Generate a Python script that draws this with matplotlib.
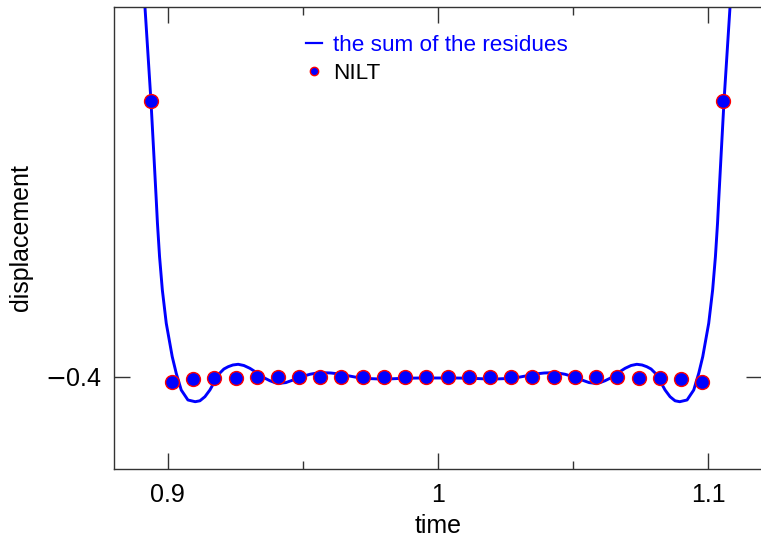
import matplotlib
matplotlib.use("Agg")
import matplotlib.pyplot as plt
from matplotlib.lines import Line2D
from matplotlib.ticker import FixedLocator

plt.rcParams['font.family'] = ['Liberation Sans', 'DejaVu Sans']
plt.rcParams['mathtext.fontset'] = 'dejavusans'

# --- data ---
curve_t = [0.89068, 0.89160, 0.89382, 0.89493, 0.89578, 0.89622, 0.89700, 0.89803,
           0.89948, 0.90169, 0.90317, 0.90502, 0.90749, 0.91019, 0.91193, 0.91378,
           0.91562, 0.91747, 0.91932, 0.92080, 0.92239, 0.92412, 0.92608, 0.92819,
           0.93041, 0.93225, 0.93410, 0.93595, 0.93780, 0.93965, 0.94149, 0.94371,
           0.94641, 0.94925, 0.95258, 0.95480, 0.95750, 0.96034, 0.96367, 0.96662,
           0.96984, 0.97401, 0.97845, 0.98288, 0.98695, 0.99323, 0.99981,
           1.00639, 1.01267, 1.01674, 1.02117, 1.02561, 1.02978, 1.03300, 1.03595,
           1.03928, 1.04212, 1.04482, 1.04704, 1.05037, 1.05321, 1.05591, 1.05813,
           1.05997, 1.06182, 1.06367, 1.06552, 1.06737, 1.06921, 1.07143, 1.07354,
           1.07550, 1.07723, 1.07882, 1.08030, 1.08215, 1.08400, 1.08584, 1.08769,
           1.08943, 1.09213, 1.09460, 1.09645, 1.09793, 1.10014, 1.10159, 1.10262,
           1.10340, 1.10384, 1.10469, 1.10580, 1.10802, 1.10894]
curve_v = [-0.17457, -0.20000, -0.25087, -0.28100, -0.30444, -0.31705, -0.33512, -0.35314,
           -0.37116, -0.38923, -0.39821, -0.40725, -0.41266, -0.41358, -0.41309, -0.41088,
           -0.40725, -0.40238, -0.39805, -0.39589, -0.39464, -0.39372, -0.39334, -0.39399,
           -0.39551, -0.39724, -0.39913, -0.40087, -0.40222, -0.40325, -0.40363, -0.40325,
           -0.40184, -0.40022, -0.39875, -0.39816, -0.39789, -0.39805, -0.39859, -0.39951,
           -0.40038, -0.40103, -0.40130, -0.40119, -0.40092, -0.40076, -0.40076,
           -0.40076, -0.40092, -0.40119, -0.40130, -0.40103, -0.40038, -0.39951, -0.39859,
           -0.39805, -0.39789, -0.39816, -0.39875, -0.40022, -0.40184, -0.40325, -0.40363,
           -0.40325, -0.40222, -0.40087, -0.39913, -0.39724, -0.39551, -0.39399, -0.39334,
           -0.39372, -0.39464, -0.39589, -0.39805, -0.40238, -0.40725, -0.41088, -0.41309,
           -0.41358, -0.41266, -0.40725, -0.39821, -0.38923, -0.37116, -0.35314, -0.33512,
           -0.31705, -0.30444, -0.28100, -0.25087, -0.20000, -0.17457]

nilt_t = [0.8938, 0.9016, 0.9094, 0.9173, 0.9251, 0.9330, 0.9408, 0.9486, 0.9565,
          0.9643, 0.9722, 0.9800, 0.9879, 0.9957, 1.0036, 1.0114, 1.0193, 1.0271,
          1.0349, 1.0428, 1.0506, 1.0585, 1.0663, 1.0742, 1.0820, 1.0899, 1.0977,
          1.1056]
nilt_v = [-0.2509, -0.4031, -0.4013, -0.4009, -0.4006, -0.4004, -0.4004, -0.4004,
          -0.4004, -0.4004, -0.4004, -0.4004, -0.4004, -0.4004, -0.4004, -0.4004,
          -0.4004, -0.4004, -0.4004, -0.4004, -0.4004, -0.4004, -0.4004, -0.4006,
          -0.4010, -0.4013, -0.4031, -0.2509]

x_major = [0.9, 1.0, 1.1]
x_major_labels = ["0.9", "1", "1.1"]
x_minor = [0.95, 1.05]
y_major = [-0.4]
y_major_labels = [r"$-$0.4"]

fig = plt.figure(figsize=(7.61, 5.37), dpi=100)
ax = fig.add_axes([113.6 / 761, (537 - 469) / 537, (762.4 - 113.6) / 761, 462 / 537])

ax.plot(curve_t, curve_v, color=(0, 0, 1), lw=2.1, zorder=2,
        solid_joinstyle='round', solid_capstyle='round')
ax.plot(nilt_t, nilt_v, linestyle='none', marker='o', markersize=10,
        markerfacecolor=(0, 0, 1), markeredgecolor=(1, 0, 0), markeredgewidth=1.0,
        zorder=3)

ax.set_xlim(0.88, 1.12)
ax.set_ylim(-0.45, -0.2)

ax.xaxis.set_major_locator(FixedLocator(x_major))
ax.set_xticklabels(x_major_labels)
ax.xaxis.set_minor_locator(FixedLocator(x_minor))
ax.yaxis.set_major_locator(FixedLocator(y_major))
ax.set_yticklabels(y_major_labels)

tick_col = '#333333'
ax.tick_params(which='both', direction='in', top=True, right=True, colors=tick_col,
               labelcolor='black', labelsize=18)
ax.tick_params(which='major', length=11.5, width=1.0)
ax.tick_params(which='minor', length=5.8, width=1.0)
ax.tick_params(axis='x', pad=10)
ax.tick_params(axis='y', pad=8)
for s in ax.spines.values():
    s.set_color(tick_col)
    s.set_linewidth(1.0)

ax.set_xlabel("time", fontsize=18, labelpad=5)
ax.set_ylabel("displacement", fontsize=18, labelpad=9)

h1 = Line2D([], [], color=(0, 0, 1), lw=1.6)
h2 = Line2D([], [], linestyle='none', marker='o', markersize=6,
            markerfacecolor=(0, 0, 1), markeredgecolor=(1, 0, 0), markeredgewidth=1.0)
leg = ax.legend([h1, h2], ["the sum of the residues", "NILT"], loc='upper left',
                bbox_to_anchor=(0.297, 0.94), frameon=False, fontsize=16.2,
                handlelength=0.7, handletextpad=0.5, labelspacing=0.33,
                borderaxespad=0, borderpad=0)
for txt, c in zip(leg.get_texts(), [(0, 0, 1), 'black']):
    txt.set_color(c)

fig.savefig("out.png", dpi=100)
